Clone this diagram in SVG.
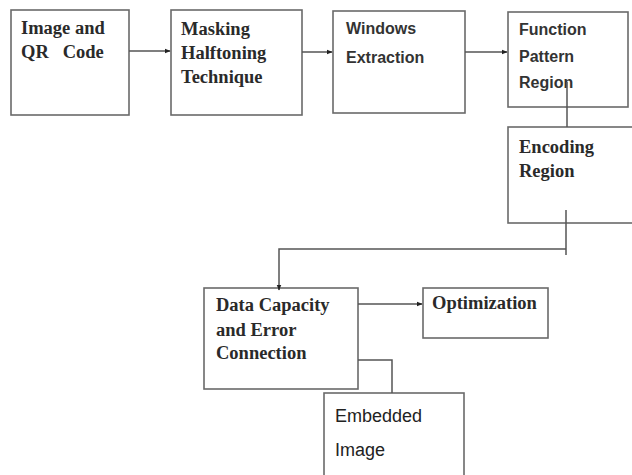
<svg xmlns="http://www.w3.org/2000/svg" width="632" height="475" viewBox="0 0 632 475">
<defs>
<marker id="ah" viewBox="0 0 10 10" refX="9" refY="5" markerWidth="6" markerHeight="6" orient="auto" markerUnits="userSpaceOnUse">
<path d="M0,1 L10,5 L0,9 z" fill="#222"/>
</marker>
<style>
.box{fill:#fff;stroke:#6a6a6a;stroke-width:1.6}
.serif{font-family:"Liberation Serif","Times New Roman",serif;font-weight:bold;font-size:18.5px;fill:#2a2a2a}
.sans{font-family:"Liberation Sans",Arial,sans-serif;font-weight:bold;font-size:16px;fill:#333}
.sans2{font-family:"Liberation Sans",Arial,sans-serif;font-size:18px;fill:#222}
.line{fill:none;stroke:#555;stroke-width:1.5}
</style>
</defs>
<rect width="632" height="475" fill="#fff"/>
<g id="n1"><rect class="box" x="11" y="10" width="118" height="105"/><text class="serif" x="21" y="34">Image and</text><text class="serif" x="21" y="58" xml:space="preserve">QR   Code</text></g>
<g id="n2"><rect class="box" x="171" y="10" width="131" height="105"/><text class="serif" x="181" y="35">Masking</text><text class="serif" x="181" y="59">Halftoning</text><text class="serif" x="181" y="83">Technique</text></g>
<g id="n3"><rect class="box" x="333" y="11" width="132" height="102"/><text class="sans" x="346" y="34">Windows</text><text class="sans" x="346" y="63">Extraction</text></g>
<g id="n4"><rect class="box" x="508" y="12" width="120" height="95"/><text class="sans" x="519" y="35">Function</text><text class="sans" x="519" y="62">Pattern</text><text class="sans" x="519" y="88">Region</text></g>
<g id="n5"><rect class="box" x="508" y="127" width="128" height="96"/><text class="serif" x="519" y="153">Encoding</text><text class="serif" x="519" y="177">Region</text></g>
<g id="n6"><rect class="box" x="204" y="288" width="154" height="101"/><text class="serif" x="216" y="311">Data Capacity</text><text class="serif" x="216" y="336">and Error</text><text class="serif" x="216" y="359">Connection</text></g>
<g id="n7"><rect class="box" x="423" y="288" width="125" height="50"/><text class="serif" x="432" y="309">Optimization</text></g>
<g id="n8"><rect class="box" x="324" y="393" width="140" height="90"/><text class="sans2" x="335" y="422">Embedded</text><text class="sans2" x="335" y="456">Image</text></g>
<g id="connectors">
<path class="line" d="M129,51 L170,51" marker-end="url(#ah)"/>
<path class="line" d="M302,52 L332,52" marker-end="url(#ah)"/>
<path class="line" d="M465,52 L507,52" marker-end="url(#ah)"/>
<path class="line" d="M567,82 L567,127"/>
<path class="line" d="M566,210 L566,255"/>
<path class="line" d="M566,249 L279,249 L279,290" marker-end="url(#ah)"/>
<path class="line" d="M358,304 L422,304" marker-end="url(#ah)"/>
<path class="line" d="M358,360 L392,360 L392,393"/>
</g>
</svg>
